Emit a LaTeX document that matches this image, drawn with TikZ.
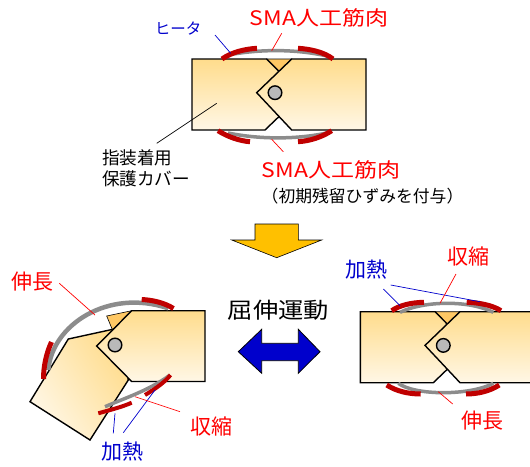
\documentclass[tikz,border=0pt]{standalone}
\usepackage{fontspec}
\setmainfont{Noto Sans CJK JP}
\newfontfamily\jpl[FakeStretch=1.15]{Noto Sans CJK JP}
\definecolor{rougefonce}{RGB}{192,0,0}
\definecolor{grisfil}{RGB}{140,140,140}
\definecolor{jaunehaut}{RGB}{255,220,140}
\definecolor{jaunebas}{RGB}{255,247,230}
\definecolor{orangejoint}{RGB}{255,200,100}
\definecolor{jaunefleche}{RGB}{255,192,0}
\definecolor{bleufonce}{RGB}{0,0,204}
\tikzset{
  bloc/.style={draw=black,line width=1.4pt,line join=miter,top color=jaunehaut,bottom color=jaunebas},
  coin/.style={draw=black,line width=0.6pt,fill=orangejoint},
  axe/.style={draw=black,line width=1.4pt,fill=gray!55},
  fil/.style={draw=grisfil,line width=3.5pt},
  chauf/.style={draw=rougefonce,line width=5pt},
  repR/.style={draw=red,line width=0.7pt},
  repB/.style={draw=bleufonce,line width=0.7pt},
  txtR/.style={text=red,inner sep=0pt,font=\fontsize{21}{24}\selectfont},
  txtB/.style={text=bleufonce,inner sep=0pt,font=\fontsize{21}{24}\selectfont},
}
\begin{document}
\begin{tikzpicture}[x=1pt,y=-1pt] % une unite = un pixel, y vers le bas
\useasboundingbox (0,0) rectangle (530,466);
% articulation droite (en haut, puis en bas a droite)
\foreach \dx/\dy in {0/0,168.3/252.7}{
\begin{scope}[shift={(\dx,\dy)}]
\draw[coin] (266.7,59)--(291.7,59)--(279,71.3)--cycle;
\draw[bloc] (192,59)--(266.7,59)--(302,94.5)--(265,130)--(192,130)--cycle; % bloc gauche
\draw[bloc] (291.7,59)--(366,59)--(366,130)--(291.7,130)--(256.7,92.7)--cycle; % bloc droit
\draw[axe] (275,92.7) circle (6.8);
\end{scope}
}
% fils SMA en haut
\draw[fil] (228,55) .. controls (260,49) and (296,49) .. (327,56);
\draw[chauf] (222,59) .. controls (232,52) and (245,49) .. (257,48.3);
\draw[chauf] (298,48.3) .. controls (310,49) and (324,52) .. (333,59);
\draw[fil] (228,133) .. controls (260,139.5) and (296,139.5) .. (327,133);
\draw[chauf] (218,130.7) .. controls (228,137) and (240,141) .. (250,141.7);
\draw[chauf] (298,141.7) .. controls (310,141) and (322,137) .. (331.7,130.7);
% fils SMA en bas a droite
\draw[fil] (400,312.3) .. controls (425,300.3) and (470,300.3) .. (493.3,312.3);
\draw[chauf] (391.7,310.7) .. controls (400,305) and (412,302.5) .. (424,302.3);
\draw[chauf] (466.7,302.3) .. controls (478,302.5) and (492,305) .. (501,310.7);
\draw[fil] (398.3,383.3) .. controls (415,395.8) and (470,395.8) .. (493.3,383.3);
\draw[chauf] (386.7,385) .. controls (396,391) and (408,394) .. (420.7,394);
\draw[chauf] (466,394) .. controls (478,394) and (490,391) .. (499.3,385);
% articulation flechie (en bas a gauche)
\draw[coin] (106.7,316)--(131.7,310.7)--(112.5,330)--cycle;
\draw[bloc,shading angle=-57] (30,401.7)--(68.3,339)--(118.8,328)--(128.3,380)--(90,440)--cycle;
\draw[bloc] (131.7,310.7)--(205,310.7)--(205,381.5)--(131.7,381.5)--(96.7,346)--cycle;
\draw[axe] (115,345) circle (6.8);
\draw[fil,line width=4.5pt] (48.3,370) .. controls (52,325) and (108,288) .. (168.3,308.3);
\draw[chauf] (43.5,379) .. controls (43.5,367) and (46,354) .. (51.5,342);
\draw[chauf] (141.7,299.5) .. controls (152,300) and (164,302.5) .. (173.5,308.5);
\draw[fil] (105,406.7) .. controls (125,398) and (150,390) .. (170,375);
\draw[chauf,line width=4pt] (98.3,413.3) .. controls (110,410) and (122,407) .. (131.7,402.7);
\draw[chauf,line width=4pt] (145,395) .. controls (155,389) and (164,383) .. (170.5,375);
% grosses fleches
\draw[fill=jaunefleche,line width=0.6pt] (255,224)--(298.3,224)--(298.3,240)--(321.7,240)--(276.7,257.7)--(231.7,240)--(255,240)--cycle;
\draw[fill=bleufonce,line width=0.8pt] (238.3,351.7)--(261.7,329.3)--(261.7,343.3)--(298.3,343.3)--(298.3,329.3)--(320,351.7)--(298.3,373.3)--(298.3,360.7)--(261.7,360.7)--(261.7,373.3)--cycle;
% textes
\node[txtB,font=\fontsize{15.5}{18}\selectfont] (heater) at (178,29) {ヒータ};
\node[txtR,font=\jpl\fontsize{20}{24}\selectfont] (smaHaut) at (319,18) {SMA人工筋肉};
\node[txtR,font=\jpl\fontsize{20}{24}\selectfont] (smaBas) at (331,170) {SMA人工筋肉};
\node[inner sep=0pt,font=\fontsize{16.8}{20}\selectfont] (prestrain) at (362.5,196) {（初期残留ひずみを付与）};
\node[inner sep=0pt,align=left,font=\fontsize{17.6}{21}\selectfont] (cover) at (146,168) {指装着用\\保護カバー};
\node[inner sep=0pt,font=\jpl\fontsize{22}{24}\selectfont] (motion) at (278.3,310) {屈伸運動};
\node[txtR] (extA) at (33,282) {伸長};
\node[txtR] (conA) at (211,426) {収縮};
\node[txtB] (heatA) at (122.5,452) {加熱};
\node[txtB] (heatB) at (366.7,270) {加熱};
\node[txtR] (conB) at (468,256) {収縮};
\node[txtR] (extB) at (482.5,421) {伸長};
% traits de rappel
\coordinate (h0) at (215,35);      \coordinate (h1) at (230.7,53.3);
\coordinate (s0) at (281.7,33.3);  \coordinate (s1) at (271.7,50.7);
\coordinate (t0) at (283.3,151.7); \coordinate (t1) at (271.7,139.3);
\coordinate (c0) at (156.7,143.3); \coordinate (c1) at (216.7,103.3);
\coordinate (e0) at (59.3,283.3);  \coordinate (e1) at (95,315);
\coordinate (a0) at (113.3,433.3); \coordinate (a1) at (115,413.3);
\coordinate (b0) at (123.3,432.7); \coordinate (b1) at (155,390);
\coordinate (r0) at (180,411.7);   \coordinate (r1) at (135,396.7);
\coordinate (d0) at (383.3,289);   \coordinate (d1) at (400,305.7);
\coordinate (f0) at (390.7,285);   \coordinate (f1) at (480,301.7);
\coordinate (g0) at (456,274);     \coordinate (g1) at (440,303.3);
\coordinate (k0) at (452.7,404);   \coordinate (k1) at (438.3,391.7);
\draw[repB] (h0)--(h1);
\draw[repR] (s0)--(s1);
\draw[repR] (t0)--(t1);
\draw[line width=0.7pt] (c0)--(c1);
\draw[repR] (e0)--(e1);
\draw[repB] (a0)--(a1);
\draw[repB] (b0)--(b1);
\draw[repR] (r0)--(r1);
\draw[repB] (d0)--(d1);
\draw[repB] (f0)--(f1);
\draw[repR] (g0)--(g1);
\draw[repR] (k0)--(k1);
\end{tikzpicture}
\end{document}
